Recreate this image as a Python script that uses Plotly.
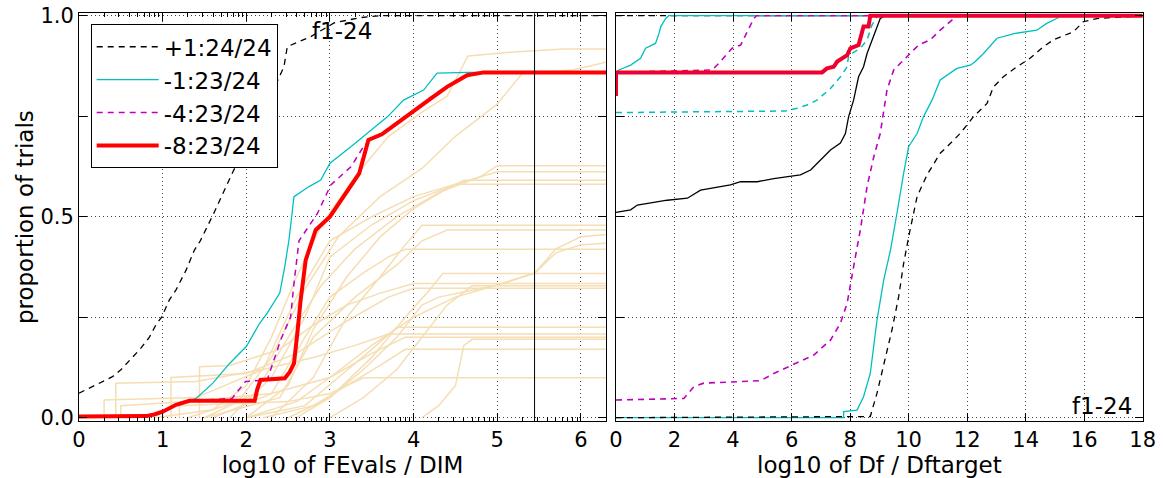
import numpy as np
import plotly.graph_objects as go

FONT = "DejaVu Sans"

# ---------------- left panel: runtime ECDFs (log10 of FEvals / DIM) ----------------
x_max_left = 6.30
max_evals_log = 5.446          # vertical marker: maximum budget

legend_labels = ["+1:24/24", "-1:23/24", "-4:23/24", "-8:23/24"]

ecdf_p1_x = [0, 0.04, 0.16, 0.30, 0.40, 0.50, 0.64, 0.74, 0.84, 0.92, 0.99, 1.08, 1.16, 1.28,
             1.38, 1.45, 1.61, 1.85, 2.05, 2.25, 2.45, 2.49, 2.77, 3.05, 3.35, 3.6, 6.30]
ecdf_p1_y = [0.061, 0.065, 0.077, 0.09, 0.102, 0.119, 0.152, 0.173, 0.2, 0.231, 0.251, 0.293,
             0.318, 0.367, 0.417, 0.44, 0.508, 0.616, 0.69, 0.78, 0.873, 0.923, 0.948, 0.982,
             0.995, 1.0, 1.0]

ecdf_m1_x = [0, 0.77, 1.0, 1.16, 1.32, 1.40, 1.60, 1.80, 2.0, 2.16, 2.25, 2.40, 2.46, 2.49, 2.51,
             2.57, 2.75, 2.89, 3.0, 3.25, 3.49, 3.69, 3.88, 4.12, 4.28, 4.66, 6.30]
ecdf_m1_y = [0.003, 0.003, 0.015, 0.032, 0.042, 0.048, 0.086, 0.135, 0.177, 0.235, 0.26, 0.31,
             0.376, 0.417, 0.442, 0.55, 0.575, 0.591, 0.633, 0.674, 0.716, 0.749, 0.79, 0.815,
             0.857, 0.859, 0.859]

ecdf_m4_x = [0, 0.77, 1.0, 1.16, 1.32, 1.83, 1.99, 2.25, 2.41, 2.53, 2.57, 2.63, 2.85, 3.01, 3.25,
             3.40, 3.5, 3.62, 3.80, 4.0, 4.20, 4.40, 4.64, 4.84, 6.30]
ecdf_m4_y = [0.003, 0.003, 0.015, 0.032, 0.042, 0.048, 0.09, 0.094, 0.193, 0.251, 0.334, 0.44,
             0.508, 0.579, 0.624, 0.674, 0.695, 0.708, 0.735, 0.764, 0.796, 0.825, 0.853,
             0.859, 0.859]

ecdf_m8_x = [0, 0.77, 0.80, 0.9, 1.0, 1.16, 1.32, 2.10, 2.13, 2.17, 2.46, 2.52, 2.57, 2.61, 2.65,
             2.71, 2.83, 3.0, 3.21, 3.35, 3.46, 3.62, 3.80, 4.0, 4.20, 4.40, 4.64, 4.84, 6.30]
ecdf_m8_y = [0.003, 0.003, 0.004, 0.008, 0.015, 0.032, 0.042, 0.042, 0.07, 0.094, 0.098, 0.114,
             0.135, 0.21, 0.293, 0.392, 0.467, 0.5, 0.566, 0.608, 0.691, 0.705, 0.732, 0.761,
             0.793, 0.823, 0.852, 0.859, 0.859]

# single-function ECDFs (drawn in the background)
single_func_x = [
    [0.9, 1.6, 2.0, 2.3, 2.6, 2.9, 3.3, 3.7, 4.1, 4.4, 4.65, 5.2, 5.8, 6.30],
    [1.3, 1.9, 2.3, 2.7, 3.1, 3.6, 4.1, 4.5, 5.0, 5.3, 5.9, 6.30],
    [1.5, 2.1, 2.5, 2.9, 3.3, 3.8, 4.3, 4.8, 5.0, 6.30],
    [1.8, 2.3, 2.7, 3.0, 3.5, 4.0, 4.5, 5.0, 6.30],
    [2.0, 2.5, 2.8, 3.2, 3.6, 4.0, 4.4, 4.6, 6.30],
    [0.3, 0.3, 1.4, 2.2, 2.6, 3.0, 3.5, 4.0, 4.5, 6.30],
    [2.3, 2.8, 3.2, 3.6, 3.9, 4.1, 6.30],
    [1.5, 2.4, 2.8, 3.3, 3.8, 4.1, 4.4, 6.30],
    [2.5, 3.0, 3.4, 3.8, 4.1, 4.3, 5.0, 5.45, 5.7, 6.0, 6.30],
    [2.0, 2.6, 3.0, 3.5, 4.0, 4.5, 5.0, 5.45, 5.7, 6.0, 6.30],
    [1.6, 2.3, 2.7, 3.0, 3.4, 3.7, 3.9, 6.30],
    [2.6, 3.0, 3.5, 3.9, 4.2, 4.35, 6.30],
    [1.44, 1.44, 1.8, 2.4, 2.8, 3.2, 3.6, 4.0, 6.30],
    [3.0, 3.4, 3.8, 4.1, 4.4, 4.7, 6.30],
    [1.1, 1.1, 2.0, 2.6, 3.2, 3.7, 4.0, 6.30],
    [2.0, 2.7, 3.1, 3.5, 3.8, 6.30],
    [0.44, 0.44, 1.4, 2.2, 2.8, 3.3, 3.7, 6.30],
    [0.5, 0.5, 1.3, 2.3, 3.0, 3.5, 3.9, 6.30],
    [4.1, 4.3, 4.5, 4.6, 4.7, 6.30],
    [2.2, 2.8, 3.2, 3.6, 3.9, 6.30],
    [1.2, 1.2, 2.5, 3.0, 3.4, 6.30],
]
single_func_y = [
    [0, 0.02, 0.08, 0.2, 0.35, 0.48, 0.6, 0.7, 0.76, 0.8, 0.9, 0.91, 0.917, 0.917],
    [0, 0.04, 0.15, 0.32, 0.45, 0.55, 0.62, 0.7, 0.78, 0.857, 0.865, 0.884],
    [0, 0.06, 0.2, 0.33, 0.42, 0.5, 0.56, 0.6, 0.627, 0.627],
    [0, 0.1, 0.25, 0.4, 0.48, 0.54, 0.58, 0.612, 0.612],
    [0, 0.08, 0.22, 0.35, 0.45, 0.52, 0.57, 0.591, 0.591],
    [0, 0.044, 0.05, 0.12, 0.3, 0.44, 0.5, 0.55, 0.581, 0.581],
    [0, 0.1, 0.25, 0.35, 0.43, 0.479, 0.479],
    [0, 0.05, 0.2, 0.3, 0.38, 0.44, 0.467, 0.467],
    [0, 0.05, 0.12, 0.2, 0.28, 0.3, 0.33, 0.36, 0.42, 0.45, 0.456],
    [0, 0.04, 0.1, 0.18, 0.25, 0.3, 0.33, 0.36, 0.41, 0.43, 0.434],
    [0, 0.06, 0.2, 0.3, 0.36, 0.4, 0.419, 0.419],
    [0, 0.05, 0.15, 0.25, 0.32, 0.359, 0.359],
    [0.0, 0.127, 0.13, 0.17, 0.23, 0.28, 0.31, 0.334, 0.334],
    [0, 0.05, 0.12, 0.2, 0.28, 0.328, 0.328],
    [0.0, 0.1, 0.11, 0.16, 0.24, 0.3, 0.322, 0.322],
    [0, 0.03, 0.1, 0.17, 0.225, 0.225],
    [0.0, 0.086, 0.09, 0.12, 0.15, 0.18, 0.208, 0.208],
    [0.0, 0.03, 0.04, 0.06, 0.1, 0.16, 0.2, 0.2],
    [0, 0.03, 0.08, 0.18, 0.195, 0.195],
    [0, 0.03, 0.08, 0.13, 0.17, 0.17],
    [0.0, 0.03, 0.04, 0.06, 0.0995, 0.0995],
]

# ---------------- right panel: final Df / Dftarget distributions ----------------
x_max_right = 18

df_black_top_x = [0, 18]
df_black_top_y = [1.0, 1.0]

df_black_solid_x = [0, 0.5, 0.73, 1.75, 2.44, 2.89, 3.91, 4.26, 4.83, 5.39, 6.3, 6.65, 6.99, 7.33,
                    7.67, 7.84, 7.95, 8.12, 8.29, 8.46, 8.58, 8.75, 8.92, 9.03, 9.2, 18]
df_black_solid_y = [0.511, 0.517, 0.529, 0.541, 0.546, 0.566, 0.579, 0.587, 0.587, 0.595, 0.604,
                    0.616, 0.641, 0.666, 0.683, 0.707, 0.749, 0.79, 0.848, 0.873, 0.906, 0.94,
                    0.973, 0.993, 1.0, 1.0]

df_cyan_top_x = [0, 0.1, 0.5, 0.84, 1.01, 1.35, 1.47, 1.53, 1.70, 1.8, 18]
df_cyan_top_y = [0.859, 0.865, 0.877, 0.894, 0.919, 0.931, 0.956, 0.973, 0.993, 1.0, 1.0]

df_cyan_dash_x = [0, 5.79, 6.19, 6.53, 6.87, 7.33, 7.67, 7.90, 7.95, 8.35, 8.58, 8.75, 8.92,
                  9.0, 18]
df_cyan_dash_y = [0.759, 0.763, 0.77, 0.778, 0.79, 0.819, 0.848, 0.873, 0.902, 0.919, 0.94,
                  0.977, 0.998, 1.0, 1.0]

df_magenta_top_x = [0, 3.29, 3.57, 3.97, 4.26, 4.48, 4.71, 4.8, 18]
df_magenta_top_y = [0.859, 0.865, 0.886, 0.919, 0.927, 0.96, 0.993, 1.0, 1.0]

df_magenta_low_x = [0, 2.32, 2.66, 3.0, 4.94, 5.39, 6.02, 6.76, 7.33, 7.67, 7.90, 8.01, 8.18,
                    8.35, 8.58, 8.81, 9.03, 9.26, 9.49, 9.83, 10.06, 10.34, 10.74, 11.08, 11.48,
                    11.7, 18]
df_magenta_low_y = [0.044, 0.048, 0.077, 0.086, 0.092, 0.11, 0.131, 0.156, 0.193, 0.235, 0.285,
                    0.334, 0.40, 0.467, 0.575, 0.649, 0.707, 0.815, 0.865, 0.89, 0.906, 0.927,
                    0.94, 0.964, 0.989, 1.0, 1.0]

df_cyan_low_x = [0, 7.78, 7.78, 8.24, 8.46, 8.69, 8.92, 9.15, 9.38, 9.49, 9.60, 9.83, 10.0,
                 10.29, 10.51, 10.80, 11.08, 11.65, 12.11, 12.28, 12.56, 13.02, 13.64, 14.38,
                 14.72, 15.06, 15.2, 18]
df_cyan_low_y = [0.0, 0.0, 0.015, 0.019, 0.052, 0.11, 0.243, 0.343, 0.417, 0.46, 0.508, 0.608,
                 0.674, 0.707, 0.749, 0.79, 0.84, 0.869, 0.877, 0.886, 0.906, 0.944, 0.956,
                 0.964, 0.981, 0.993, 1.0, 1.0]

df_black_dash_x = [0, 8.69, 8.92, 9.15, 9.43, 9.66, 9.83, 10.03, 10.29, 10.63, 11.08, 11.31,
                   11.76, 12.22, 12.68, 12.90, 13.24, 13.70, 14.15, 14.61, 14.95, 15.63, 15.97,
                   16.43, 17.45, 18]
df_black_dash_y = [0.0, 0.003, 0.061, 0.135, 0.218, 0.301, 0.384, 0.46, 0.55, 0.604, 0.658,
                   0.674, 0.707, 0.749, 0.782, 0.823, 0.848, 0.873, 0.894, 0.923, 0.94, 0.96,
                   0.985, 0.993, 0.998, 1.0]

df_red_x = [0, 0, 7.04, 7.21, 7.44, 7.56, 7.90, 8.01, 8.29, 8.41, 8.46, 8.63, 8.69, 18]
df_red_y = [0.80, 0.859, 0.859, 0.869, 0.873, 0.886, 0.902, 0.919, 0.927, 0.956, 0.973, 0.973,
            1.0, 1.0]

# ---------------- styling ----------------
BLACK = "#000000"
CYAN = "#00BFBF"
MAGENTA = "#BF00BF"
RED = "#FF0000"
WHEAT = "#F5DEB3"
DASH = "6px,5px"

fig = go.Figure()

for xs, ys in zip(single_func_x, single_func_y):
    fig.add_trace(go.Scatter(x=xs, y=ys, mode="lines", line=dict(color=WHEAT, width=1.5),
                             showlegend=False, hoverinfo="skip", xaxis="x", yaxis="y"))

left_series = [
    (ecdf_p1_x, ecdf_p1_y, BLACK, 1.3, DASH),
    (ecdf_m1_x, ecdf_m1_y, CYAN, 1.3, "solid"),
    (ecdf_m4_x, ecdf_m4_y, MAGENTA, 1.5, DASH),
    (ecdf_m8_x, ecdf_m8_y, RED, 4.0, "solid"),
]
for i, (xs, ys, col, w, dash) in enumerate(left_series):
    fig.add_trace(go.Scatter(x=xs, y=ys, mode="lines", name=legend_labels[i],
                             legendgroup=f"g{i}",
                             line=dict(color=col, width=w, dash=dash),
                             xaxis="x", yaxis="y"))

right_series = [
    (df_black_top_x, df_black_top_y, BLACK, 1.3, DASH),
    (df_black_solid_x, df_black_solid_y, BLACK, 1.3, "solid"),
    (df_cyan_top_x, df_cyan_top_y, CYAN, 1.3, "solid"),
    (df_cyan_dash_x, df_cyan_dash_y, CYAN, 1.5, DASH),
    (df_magenta_top_x, df_magenta_top_y, MAGENTA, 1.6, DASH),
    (df_magenta_low_x, df_magenta_low_y, MAGENTA, 1.6, DASH),
    (df_cyan_low_x, df_cyan_low_y, CYAN, 1.3, "solid"),
    (df_black_dash_x, df_black_dash_y, BLACK, 1.3, DASH),
    (df_red_x, df_red_y, RED, 4.0, "solid"),
    (df_red_x, df_red_y, MAGENTA, 1.5, "solid"),
]
for xs, ys, col, w, dash in right_series:
    fig.add_trace(go.Scatter(x=xs, y=ys, mode="lines", showlegend=False, hoverinfo="skip",
                             line=dict(color=col, width=w, dash=dash),
                             opacity=0.6 if (col == MAGENTA and w == 1.5) else 1.0,
                             xaxis="x2", yaxis="y2"))

# log-spaced minor ticks on the FEvals axis
minor_left = [n + np.log10(k) for n in range(7) for k in range(2, 10)
              if n + np.log10(k) < x_max_left]

y_range = [-0.0082, 1.006]
y_ticks = [0, 0.25, 0.5, 0.75, 1.0]
y_text = ["0.0", "", "0.5", "", "1.0"]

grid = dict(showgrid=True, gridcolor="rgba(0,0,0,0.75)", gridwidth=1, griddash="1px,3px")
frame = dict(showline=True, linecolor=BLACK, linewidth=1, mirror="allticks",
             ticks="inside", ticklen=8, tickcolor=BLACK, zeroline=False, automargin=False)
tickfont = dict(family=FONT, size=21, color=BLACK)
titlefont = dict(family=FONT, size=23, color=BLACK)

fig.update_layout(
    template="none",
    width=1163, height=478,
    margin=dict(l=0, r=0, t=0, b=0, autoexpand=False),
    paper_bgcolor="white", plot_bgcolor="white",
    font=dict(family=FONT, color=BLACK),
    xaxis=dict(domain=[79 / 1163, 606 / 1163], range=[0, x_max_left],
               tickvals=list(range(7)), tickfont=tickfont,
               title=dict(text="log10 of FEvals / DIM", font=titlefont, standoff=3),
               minor=dict(tickmode="array", tickvals=minor_left, ticks="inside", ticklen=4,
                          tickcolor=BLACK, showgrid=False),
               anchor="y", **grid, **frame),
    yaxis=dict(domain=[57 / 478, 464.7 / 478], range=y_range, tickvals=y_ticks,
               ticktext=y_text, tickfont=tickfont,
               title=dict(text="proportion of trials", font=titlefont, standoff=0),
               anchor="x", **grid, **frame),
    xaxis2=dict(domain=[616 / 1163, 1142.7 / 1163], range=[0, x_max_right],
                tickvals=list(range(0, 19, 2)), tickfont=tickfont,
                title=dict(text="log10 of Df / Dftarget", font=titlefont, standoff=3),
                anchor="y2", **grid, **frame),
    yaxis2=dict(domain=[57 / 478, 464.7 / 478], range=y_range, tickvals=y_ticks,
                showticklabels=False, anchor="x2", **grid, **frame),
    legend=dict(x=90.7 / 1163, y=1 - 24.3 / 478, xanchor="left", yanchor="top",
                bgcolor="white", bordercolor=BLACK, borderwidth=1,
                font=dict(family=FONT, size=23, color=BLACK),
                tracegroupgap=0, itemwidth=62),
    shapes=[dict(type="line", xref="x", yref="y domain", x0=max_evals_log, x1=max_evals_log,
                 y0=0, y1=1, line=dict(color=BLACK, width=1))],
    annotations=[
        dict(text="f1-24", xref="paper", yref="paper", x=342 / 1163, y=1 - 31 / 478,
             showarrow=False, font=titlefont, xanchor="center", yanchor="middle"),
        dict(text="f1-24", xref="paper", yref="paper", x=1102 / 1163, y=1 - 406 / 478,
             showarrow=False, font=titlefont, xanchor="center", yanchor="middle"),
    ],
)

fig.write_html("out.html")
